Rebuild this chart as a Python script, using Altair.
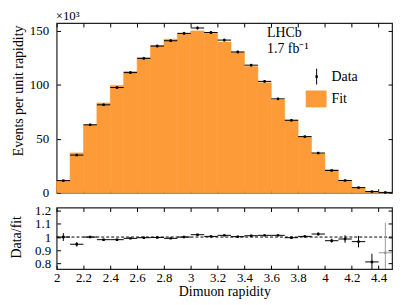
import altair as alt
import pandas as pd
import numpy as np

# ---- data ----
bin_lo = [round(2.0 + 0.1 * i, 1) for i in range(25)]
fit = [11.2, 36.8, 62.8, 83.0, 99.3, 112.2, 124.9, 136.1, 142.0, 147.4, 149.7, 147.5, 139.4,
       129.8, 116.8, 101.7, 85.7, 67.3, 51.6, 35.9, 21.2, 11.5, 4.9, 1.3, 0.3]
data = [11.2, 34.8, 62.8, 81.3, 97.3, 111.1, 124.3, 135.7, 140.6, 147.4, 152.4, 148.2, 141.2,
        130.2, 118.0, 103.0, 86.8, 67.0, 51.9, 36.7, 20.6, 11.3, 4.7, 1.05, 0.26]
data_err = [0.5, 0.8, 1.0, 1.1, 1.2, 1.2, 1.3, 1.3, 1.3, 1.4, 1.4, 1.4, 1.3,
            1.3, 1.2, 1.2, 1.1, 1.0, 0.9, 0.8, 0.6, 0.5, 0.4, 0.3, 0.2]
ratio = [1.0, 0.945, 1.0, 0.98, 0.98, 0.99, 0.995, 0.997, 0.99, 1.0, 1.018, 1.005, 1.013,
         1.003, 1.01, 1.013, 1.013, 0.995, 1.005, 1.023, 0.972, 0.985, 0.965, 0.81, 0.88]
ratio_err = [0.03, 0.018, 0.008, 0.006, 0.005, 0.005, 0.005, 0.005, 0.005, 0.005, 0.005, 0.005, 0.005,
             0.005, 0.005, 0.005, 0.006, 0.007, 0.008, 0.012, 0.015, 0.029, 0.044, 0.063, 0.23]

x_ticks = [2.0, 2.2, 2.4, 2.6, 2.8, 3.0, 3.2, 3.4, 3.6, 3.8, 4.0, 4.2, 4.4]
y_ticks_top = [0, 50, 100, 150]
y_ticks_bot = [0.8, 0.9, 1.0, 1.1, 1.2]

df = pd.DataFrame({"lo": bin_lo, "fit": fit, "data": data, "err": data_err,
                   "ratio": ratio, "rerr": ratio_err})

ORANGE = "#FD9B38"
FONT = "Liberation Serif"
W = 338
H_TOP = 171
H_BOT = 62
frame = alt.ViewBackground(stroke="#222222", strokeWidth=1.2, fill="white")

xscale = alt.Scale(domain=[2.0, 4.5], nice=False, zero=False)
ytop = alt.Scale(domain=[0, 157], nice=False)
ybot = alt.Scale(domain=[0.755, 1.225], nice=False, zero=False)

tick_common = dict(domain=False, grid=False, ticks=True, tickSize=4, offset=-4,
                   tickColor="black", tickWidth=1)

base = alt.Chart(df).transform_calculate(
    hi="datum.lo + 0.1", c="datum.lo + 0.05",
    dlo="datum.data - datum.err", dhi="datum.data + datum.err",
    rlo="datum.ratio - datum.rerr", rhi="datum.ratio + datum.rerr",
)

# ---------------- top panel ----------------
bars = base.mark_bar(color=ORANGE, stroke=ORANGE, strokeWidth=0.6).encode(
    x=alt.X("lo:Q", scale=xscale,
            axis=alt.Axis(orient="bottom", values=x_ticks, labels=False, title=None, **tick_common)),
    x2="hi:Q",
    y=alt.Y("fit:Q", scale=ytop,
            axis=alt.Axis(orient="left", values=y_ticks_top, labels=True, labelFont=FONT,
                          labelFontSize=13, labelColor="black", labelPadding=8,
                          title="Events per unit rapidity", titleFont=FONT, titleFontSize=14,
                          titleFontWeight="normal", titleColor="black", titleAngle=270,
                          titleX=-42, titleY=2, titleAlign="right", titleBaseline="middle",
                          **tick_common)),
    y2=alt.datum(0),
)
hbar = base.mark_rule(color="black", strokeWidth=1).encode(
    x=alt.X("lo:Q", scale=xscale, axis=None), x2="hi:Q",
    y=alt.Y("data:Q", scale=ytop, axis=None))
vbar = base.mark_rule(color="black", strokeWidth=1).encode(
    x=alt.X("c:Q", scale=xscale, axis=None),
    y=alt.Y("dlo:Q", scale=ytop, axis=None), y2="dhi:Q")
pts = base.mark_square(color="black", size=6, opacity=1).encode(
    x=alt.X("c:Q", scale=xscale, axis=None),
    y=alt.Y("data:Q", scale=ytop, axis=None))
frame_top = base.mark_point(opacity=0).encode(
    x=alt.X("c:Q", scale=xscale,
            axis=alt.Axis(orient="top", values=x_ticks, labels=False, title=None, **tick_common)),
    y=alt.Y("data:Q", scale=ytop,
            axis=alt.Axis(orient="right", values=y_ticks_top, labels=False, title=None, **tick_common)))

one = pd.DataFrame({"k": [0]})
txt = dict(font=FONT, fontSize=14, color="black", align="left", baseline="alphabetic")
sci = alt.Chart(one).mark_text(**{**txt, "fontSize": 13}).encode(
    x=alt.value(-1), y=alt.value(-3), text=alt.value("×10³"))
lhcb = alt.Chart(one).mark_text(**txt).encode(
    x=alt.value(212), y=alt.value(14), text=alt.value("LHCb"))
lumi = alt.Chart(one).mark_text(**txt).encode(
    x=alt.value(212), y=alt.value(30.5), text=alt.value("1.7 fb⁻¹"))
leg_data_t = alt.Chart(one).mark_text(**txt).encode(
    x=alt.value(277), y=alt.value(58), text=alt.value("Data"))
leg_fit_t = alt.Chart(one).mark_text(**txt).encode(
    x=alt.value(277), y=alt.value(81), text=alt.value("Fit"))
leg_data_l = alt.Chart(one).mark_rule(color="black", strokeWidth=1).encode(
    x=alt.value(262), y=alt.value(46), y2=alt.value(62))
leg_data_p = alt.Chart(one).mark_square(color="black", size=6, opacity=1).encode(
    x=alt.value(262), y=alt.value(54))
leg_fit_r = alt.Chart(one).mark_rect(color=ORANGE).encode(
    x=alt.value(251), x2=alt.value(272), y=alt.value(68), y2=alt.value(85))

top = alt.layer(bars, hbar, vbar, pts, frame_top, sci, lhcb, lumi,
                leg_data_l, leg_data_p, leg_data_t, leg_fit_r, leg_fit_t).resolve_axis(
    x="independent", y="independent").properties(width=W, height=H_TOP, view=frame)

# ---------------- bottom panel ----------------
one_line = alt.Chart(pd.DataFrame({"v": [1.0]})).mark_rule(
    color="black", strokeDash=[3, 2], strokeWidth=1).encode(
    y=alt.Y("v:Q", scale=ybot, axis=None))
rcolor = alt.condition("datum.lo > 4.35", alt.value("#9a9a9a"), alt.value("black"))
rh = base.mark_rule(strokeWidth=1, clip=True).encode(
    x=alt.X("lo:Q", scale=xscale,
            axis=alt.Axis(orient="bottom", values=x_ticks, format="~g", labelFont=FONT,
                          labelFontSize=13, labelColor="black", labelPadding=2.5,
                          labelFlush=False,
                          title="Dimuon rapidity", titleFont=FONT, titleFontSize=14,
                          titleFontWeight="normal", titleColor="black",
                          titleX=W / 2, titleY=31, titleAlign="center",
                          titleBaseline="alphabetic", **tick_common)),
    x2="hi:Q",
    y=alt.Y("ratio:Q", scale=ybot,
            axis=alt.Axis(orient="left", values=y_ticks_bot, format="~g", labelFont=FONT,
                          labelFontSize=13, labelColor="black", labelPadding=6,
                          title="Data/fit", titleFont=FONT, titleFontSize=14,
                          titleFontWeight="normal", titleColor="black", titleAngle=270,
                          titleX=-44, titleY=8, titleAlign="right", titleBaseline="middle",
                          **tick_common)),
    color=rcolor)
rv = base.mark_rule(strokeWidth=1, clip=True).encode(
    x=alt.X("c:Q", scale=xscale, axis=None),
    y=alt.Y("rlo:Q", scale=ybot, axis=None), y2="rhi:Q", color=rcolor)
rp = base.mark_square(size=6, opacity=1, clip=True).encode(
    x=alt.X("c:Q", scale=xscale, axis=None),
    y=alt.Y("ratio:Q", scale=ybot, axis=None), color=rcolor)
frame_bot = base.mark_point(opacity=0).encode(
    x=alt.X("c:Q", scale=xscale,
            axis=alt.Axis(orient="top", values=x_ticks, labels=False, title=None, **tick_common)),
    y=alt.Y("ratio:Q", scale=ybot,
            axis=alt.Axis(orient="right", values=y_ticks_bot, labels=False, title=None, **tick_common)))

bottom = alt.layer(rh, one_line, rv, rp, frame_bot).resolve_axis(
    x="independent", y="independent").properties(width=W, height=H_BOT, view=frame)

chart = alt.vconcat(top, bottom, spacing=3).properties(
    padding={"left": 1, "top": 0, "right": 5, "bottom": 0},
    background="white",
).configure(font=FONT)

chart.save("out.html", embed_options={"renderer": "svg", "actions": False})
